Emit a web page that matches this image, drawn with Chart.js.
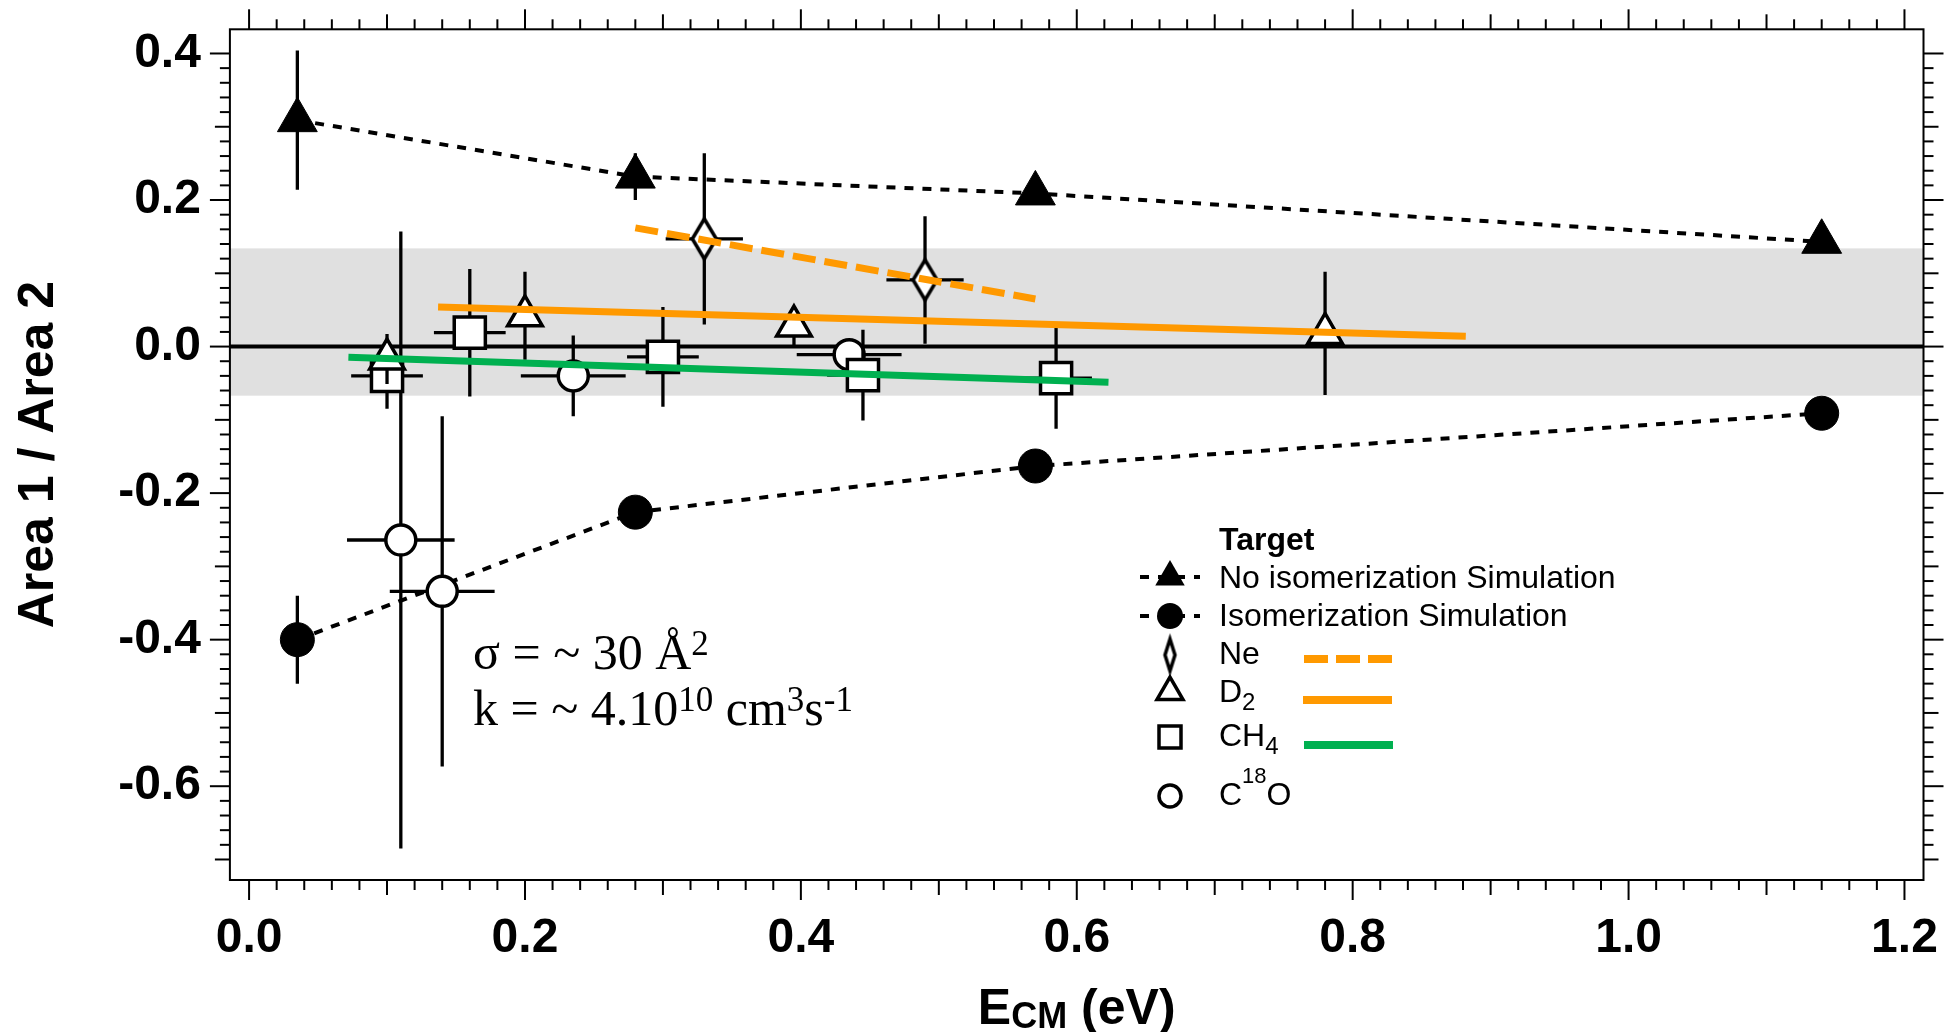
<!DOCTYPE html>
<html><head><meta charset="utf-8">
<script src="https://cdn.jsdelivr.net/npm/chart.js@4.4.1/dist/chart.umd.min.js"></script>
<style>html,body{margin:0;padding:0;background:#fff;}canvas{display:block;}</style>
</head><body>
<canvas id="c" width="1949" height="1032"></canvas>
<script>
// ---------------- data ----------------
const X_TICK_LABELS = [0.0, 0.2, 0.4, 0.6, 0.8, 1.0, 1.2];
const Y_TICK_LABELS = [-0.6, -0.4, -0.2, 0.0, 0.2, 0.4];

// simulations
const SIM_E     = [0.035, 0.280, 0.570, 1.140];
const NO_ISO_Y  = [0.309, 0.232, 0.209, 0.143];
const NO_ISO_ERR= [0.095, 0.032, 0, 0];
const ISO_Y     = [-0.400, -0.226, -0.163, -0.091];
const ISO_ERR   = [0.060, 0, 0, 0];

// Ne target
const NE_E    = [0.330, 0.490];
const NE_Y    = [0.147, 0.091];
const NE_XERR = [0.028, 0.028];
const NE_YERR = [0.117, 0.087];

// D2 target
const D2_E    = [0.100, 0.200, 0.395, 0.780];
const D2_Y    = [-0.017, 0.042, 0.028, 0.018];
const D2_YERR = [0.034, 0.060, 0.026, 0.084];

// CH4 target
const CH4_E    = [0.100, 0.160, 0.300, 0.445, 0.585];
const CH4_Y    = [-0.040, 0.019, -0.014, -0.039, -0.043];
const CH4_XERR = [0.026, 0.026, 0.026, 0.026, 0.026];
const CH4_YERR = [0.045, 0.087, 0.068, 0.062, 0.069];

// C18O target
const C18O_E    = [0.110, 0.140, 0.235, 0.435];
const C18O_Y    = [-0.264, -0.334, -0.040, -0.011];
const C18O_XERR = [0.039, 0.038, 0.038, 0.038];
const C18O_YERR = [0.421, 0.239, 0.055, 0];

// fits
const NE_FIT_E  = [0.280, 0.570];  const NE_FIT_Y  = [0.162, 0.065];
const D2_FIT_E  = [0.137, 0.882];  const D2_FIT_Y  = [0.054, 0.014];
const CH4_FIT_E = [0.072, 0.623];  const CH4_FIT_Y = [-0.0145, -0.0487];

// shaded band
const BAND = [-0.067, 0.134];

// axis ranges
const X_RANGE = [-0.0139, 1.2138];
const Y_RANGE = [-0.728, 0.433];
const X_MINOR = [0.0, 1.2, 0.02];
const Y_MINOR = [-0.7, 0.4, 0.02];

// ---------------- styling ----------------
const ORANGE = '#ff9900', GREEN = '#00b050', BAND_COLOR = '#e0e0e0';
const SANS = "'Liberation Sans', Arial, Helvetica, sans-serif";
const SERIF = "'Liberation Serif', 'Times New Roman', serif";

const pts = (xs, ys) => xs.map((x, i) => ({x, y: ys[i]}));

function diamondCanvas(hw, hh, lw) {
  const pad = lw * 3;
  const c = document.createElement('canvas');
  c.width = Math.ceil(2 * (hw + pad)); c.height = Math.ceil(2 * (hh + pad));
  const g = c.getContext('2d');
  const cx = c.width / 2, cy = c.height / 2;
  g.beginPath();
  g.moveTo(cx, cy - hh); g.lineTo(cx + hw, cy); g.lineTo(cx, cy + hh); g.lineTo(cx - hw, cy); g.closePath();
  g.fillStyle = '#fff'; g.fill();
  g.lineWidth = lw; g.lineJoin = 'miter'; g.miterLimit = 10; g.strokeStyle = '#000'; g.stroke();
  return c;
}
const NE_MARK = diamondCanvas(12, 20, 3.5);

function line(ctx, x1, y1, x2, y2) { ctx.beginPath(); ctx.moveTo(x1, y1); ctx.lineTo(x2, y2); ctx.stroke(); }

// ---------------- plugins ----------------
const bandPlugin = {
  id: 'band',
  beforeDatasetsDraw(chart) {
    const {ctx, chartArea: a, scales: {y}} = chart;
    ctx.save();
    const t = y.getPixelForValue(BAND[1]), b = y.getPixelForValue(BAND[0]);
    ctx.fillStyle = BAND_COLOR;
    ctx.fillRect(a.left, t, a.right - a.left, b - t);
    ctx.strokeStyle = '#000'; ctx.lineWidth = 4;
    const z = y.getPixelForValue(0);
    line(ctx, a.left, z, a.right, z);
    ctx.restore();
  }
};

const errorBarPlugin = {
  id: 'errorBars',
  beforeDatasetDraw(chart, args) {
    const ds = chart.data.datasets[args.index];
    if (!ds.errorBars) return;
    const {ctx, chartArea: a, scales: {x, y}} = chart;
    ctx.save();
    ctx.beginPath(); ctx.rect(a.left, a.top, a.right - a.left, a.bottom - a.top); ctx.clip();
    ctx.strokeStyle = '#000'; ctx.lineWidth = 3.3; ctx.lineCap = 'butt';
    ds.data.forEach((p, i) => {
      const ex = ds.errorBars.x ? ds.errorBars.x[i] : 0;
      const ey = ds.errorBars.y ? ds.errorBars.y[i] : 0;
      const px = x.getPixelForValue(p.x), py = y.getPixelForValue(p.y);
      if (ey) line(ctx, px, y.getPixelForValue(p.y - ey), px, y.getPixelForValue(p.y + ey));
      if (ex) line(ctx, x.getPixelForValue(p.x - ex), py, x.getPixelForValue(p.x + ex), py);
    });
    ctx.restore();
  }
};

function drawRuns(ctx, x, y, runs, align) {
  let total = 0;
  runs.forEach(r => { ctx.font = r.font; r.w = ctx.measureText(r.t).width; total += r.w; });
  let cx = align === 'center' ? x - total / 2 : x;
  ctx.textAlign = 'left'; ctx.textBaseline = 'alphabetic';
  runs.forEach(r => { ctx.font = r.font; ctx.fillText(r.t, cx, y + (r.dy || 0)); cx += r.w; });
}

function triPath(ctx, x, y, r) {
  ctx.beginPath();
  for (let k = 0; k < 3; k++) {
    const ang = k * 2 * Math.PI / 3;
    const px = x + Math.sin(ang) * r, py = y - Math.cos(ang) * r;
    k ? ctx.lineTo(px, py) : ctx.moveTo(px, py);
  }
  ctx.closePath();
}

const decorPlugin = {
  id: 'decor',
  afterDraw(chart) {
    const {ctx, chartArea: a, scales: {x, y}} = chart;
    ctx.save();
    ctx.strokeStyle = '#000'; ctx.fillStyle = '#000';
    // frame
    ctx.lineWidth = 2;
    ctx.strokeRect(a.left, a.top, a.right - a.left, a.bottom - a.top);
    // tick marks (outward) on all four sides
    const nx = Math.round((X_MINOR[1] - X_MINOR[0]) / X_MINOR[2]);
    for (let i = 0; i <= nx; i++) {
      const v = X_MINOR[0] + i * X_MINOR[2];
      const len = i % 10 === 0 ? 20 : (i % 5 === 0 ? 15 : 10);
      const px = x.getPixelForValue(v);
      line(ctx, px, a.bottom, px, a.bottom + len);
      line(ctx, px, a.top, px, a.top - len);
    }
    const ny = Math.round((Y_MINOR[1] - Y_MINOR[0]) / Y_MINOR[2]);
    for (let i = 0; i <= ny; i++) {
      const v = Y_MINOR[0] + i * Y_MINOR[2];
      const k = Math.round(v / Y_MINOR[2]);
      const len = k % 10 === 0 ? 20 : (k % 5 === 0 ? 15 : 10);
      const py = y.getPixelForValue(v);
      line(ctx, a.left, py, a.left - len, py);
      line(ctx, a.right, py, a.right + len, py);
    }

    // axis titles
    ctx.fillStyle = '#000';
    drawRuns(ctx, (a.left + a.right) / 2, 1024, [
      {t: 'E', font: 'bold 50px ' + SANS},
      {t: 'CM', font: 'bold 36px ' + SANS, dy: 4},
      {t: ' (eV)', font: 'bold 50px ' + SANS}
    ], 'center');
    ctx.save();
    ctx.translate(53, (a.top + a.bottom) / 2);
    ctx.rotate(-Math.PI / 2);
    ctx.font = 'bold 50px ' + SANS; ctx.textAlign = 'center'; ctx.textBaseline = 'alphabetic';
    ctx.fillText('Area 1 / Area 2', 0, 0);
    ctx.restore();

    // annotation
    drawRuns(ctx, 473, 669, [
      {t: 'σ = ~ 30 Å', font: '50px ' + SERIF},
      {t: '2', font: '35px ' + SERIF, dy: -14}
    ]);
    drawRuns(ctx, 473, 725, [
      {t: 'k = ~ 4.10', font: '50px ' + SERIF},
      {t: '10', font: '35px ' + SERIF, dy: -14},
      {t: ' cm', font: '50px ' + SERIF},
      {t: '3', font: '35px ' + SERIF, dy: -14},
      {t: 's', font: '50px ' + SERIF},
      {t: '-1', font: '35px ' + SERIF, dy: -14}
    ]);

    // legend
    const LX = 1170, TX = 1219;
    const F = '32px ' + SANS, FS = '24px ' + SANS;
    drawRuns(ctx, TX, 550, [{t: 'Target', font: 'bold 32px ' + SANS}]);
    drawRuns(ctx, TX, 588, [{t: 'No isomerization Simulation', font: F}]);
    drawRuns(ctx, TX, 626, [{t: 'Isomerization Simulation', font: F}]);
    drawRuns(ctx, TX, 664, [{t: 'Ne', font: F}]);
    drawRuns(ctx, TX, 702, [{t: 'D', font: F}, {t: '2', font: FS, dy: 8}]);
    drawRuns(ctx, TX, 746, [{t: 'CH', font: F}, {t: '4', font: FS, dy: 8}]);
    drawRuns(ctx, TX, 805, [{t: 'C', font: F}, {t: '18', font: '22px ' + SANS, dy: -22}, {t: 'O', font: F}]);

    // legend symbols
    ctx.lineWidth = 4; ctx.setLineDash([9, 9]);
    line(ctx, 1140, 577, 1200, 577);
    line(ctx, 1140, 616, 1200, 616);
    ctx.setLineDash([]);
    triPath(ctx, LX, 577, 17); ctx.fill();
    ctx.beginPath(); ctx.arc(LX, 616, 13, 0, 2 * Math.PI); ctx.fill();
    const dm = diamondCanvas(5, 16, 3.5);
    ctx.drawImage(dm, LX - dm.width / 2, 655 - dm.height / 2);
    ctx.lineWidth = 3.5; ctx.fillStyle = '#fff';
    triPath(ctx, LX, 692, 15); ctx.fill(); ctx.stroke();
    ctx.beginPath(); ctx.rect(LX - 11, 737 - 11, 22, 22); ctx.fill(); ctx.stroke();
    ctx.beginPath(); ctx.arc(LX, 796, 11, 0, 2 * Math.PI); ctx.fill(); ctx.stroke();
    // legend line samples
    ctx.lineWidth = 8; ctx.lineCap = 'butt';
    ctx.strokeStyle = ORANGE; ctx.setLineDash([24, 8]);
    line(ctx, 1304, 659, 1392, 659);
    ctx.setLineDash([]);
    line(ctx, 1303, 700, 1392, 700);
    ctx.strokeStyle = GREEN;
    line(ctx, 1304, 745, 1393, 745);
    ctx.restore();
  }
};

// ---------------- chart ----------------
const tickFont = {family: SANS, size: 48, weight: 'bold'};
const noPad = s => { s.paddingLeft = 0; s.paddingRight = 0; s.paddingTop = 0; s.paddingBottom = 0; };
const hiddenAxis = (pos, range, fit) => ({
  type: 'linear', position: pos, min: range[0], max: range[1],
  ticks: {display: false}, grid: {display: false, drawTicks: false}, border: {display: false},
  afterFit: s => { fit(s); noPad(s); }
});

new Chart(document.getElementById('c'), {
  type: 'scatter',
  data: {
    datasets: [
      {label: 'Ne fit', data: pts(NE_FIT_E, NE_FIT_Y), showLine: true, pointRadius: 0,
       borderColor: ORANGE, borderWidth: 7, borderDash: [23, 9], borderCapStyle: 'butt', order: 1},
      {label: 'D2 fit', data: pts(D2_FIT_E, D2_FIT_Y), showLine: true, pointRadius: 0,
       borderColor: ORANGE, borderWidth: 7, borderCapStyle: 'butt', order: 1},
      {label: 'CH4 fit', data: pts(CH4_FIT_E, CH4_FIT_Y), showLine: true, pointRadius: 0,
       borderColor: GREEN, borderWidth: 7, borderCapStyle: 'butt', order: 1},
      {label: 'Ne', data: pts(NE_E, NE_Y), pointStyle: NE_MARK, pointRadius: 20,
       errorBars: {x: NE_XERR, y: NE_YERR}, order: 3},
      {label: 'D2', data: pts(D2_E, D2_Y), pointStyle: 'triangle', pointRadius: 20,
       pointBackgroundColor: '#fff', pointBorderColor: '#000', pointBorderWidth: 3.5,
       errorBars: {y: D2_YERR}, order: 4},
      {label: 'CH4', data: pts(CH4_E, CH4_Y), pointStyle: 'rect', pointRadius: 22,
       pointBackgroundColor: '#fff', pointBorderColor: '#000', pointBorderWidth: 3.5,
       errorBars: {x: CH4_XERR, y: CH4_YERR}, order: 5},
      {label: 'C18O', data: pts(C18O_E, C18O_Y), pointStyle: 'circle', pointRadius: 15,
       pointBackgroundColor: '#fff', pointBorderColor: '#000', pointBorderWidth: 3.5,
       errorBars: {x: C18O_XERR, y: C18O_YERR}, order: 6},
      {label: 'Isomerization Simulation', data: pts(SIM_E, ISO_Y), showLine: true,
       borderColor: '#000', borderWidth: 4, borderDash: [9, 9], tension: 0,
       pointStyle: 'circle', pointRadius: 17, pointBackgroundColor: '#000', pointBorderColor: '#000', pointBorderWidth: 1,
       errorBars: {y: ISO_ERR}, order: 9},
      {label: 'No isomerization Simulation', data: pts(SIM_E, NO_ISO_Y), showLine: true,
       borderColor: '#000', borderWidth: 4, borderDash: [9, 9], tension: 0,
       pointStyle: 'triangle', pointRadius: 23, pointBackgroundColor: '#000', pointBorderColor: '#000', pointBorderWidth: 1,
       errorBars: {y: NO_ISO_ERR}, order: 10}
    ]
  },
  options: {
    responsive: false, animation: false, devicePixelRatio: 1,
    layout: {padding: 0},
    plugins: {legend: {display: false}, tooltip: {enabled: false}},
    scales: {
      x: {
        type: 'linear', position: 'bottom', min: X_RANGE[0], max: X_RANGE[1],
        grid: {display: false, drawTicks: false}, border: {display: false},
        afterBuildTicks: s => { s.ticks = X_TICK_LABELS.map(v => ({value: v})); },
        ticks: {font: tickFont, color: '#000', padding: 30, maxRotation: 0, autoSkip: false,
                callback: v => Number(v).toFixed(1)},
        afterFit: s => { s.height = 152; noPad(s); }
      },
      y: {
        type: 'linear', position: 'left', min: Y_RANGE[0], max: Y_RANGE[1],
        grid: {display: false, drawTicks: false}, border: {display: false},
        afterBuildTicks: s => { s.ticks = Y_TICK_LABELS.map(v => ({value: v})); },
        ticks: {font: tickFont, color: '#000', padding: 29, autoSkip: false,
                callback: v => Number(v).toFixed(1)},
        afterFit: s => { s.width = 229.9; noPad(s); }
      },
      x2: hiddenAxis('top', X_RANGE, s => { s.height = 29.3; }),
      y2: hiddenAxis('right', Y_RANGE, s => { s.width = 22.3; })
    }
  },
  plugins: [bandPlugin, errorBarPlugin, decorPlugin]
});
</script>
</body></html>
